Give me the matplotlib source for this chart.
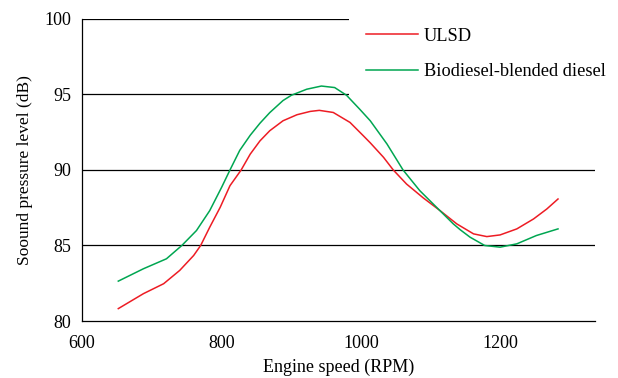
import matplotlib.pyplot as plt

plt.rcParams['font.family'] = ['Liberation Serif', 'DejaVu Serif']

# engine speed (RPM) and sound pressure level (dB) for each fuel
ulsd_rpm = [652, 688, 717, 740, 760, 770, 783, 798, 812, 828, 841, 855, 869, 888, 908,
            927, 940, 960, 984, 1003, 1013, 1032, 1046, 1065, 1089, 1113, 1137, 1161,
            1180, 1199, 1223, 1247, 1266, 1282]
ulsd_spl = [80.82, 81.81, 82.47, 83.35, 84.34, 85.0, 86.21, 87.53, 88.96, 90.0, 91.05,
            91.93, 92.6, 93.26, 93.66, 93.88, 93.95, 93.81, 93.15, 92.27, 91.8, 90.84,
            90.0, 89.07, 88.15, 87.31, 86.43, 85.77, 85.59, 85.7, 86.1, 86.76, 87.42, 88.08]

bio_rpm = [652, 688, 721, 743, 764, 783, 800, 812, 826, 841, 855, 869, 888, 900, 922,
           943, 962, 979, 998, 1013, 1037, 1060, 1084, 1108, 1132, 1142, 1156, 1177,
           1199, 1223, 1251, 1282]
bio_spl = [82.64, 83.46, 84.12, 85.0, 85.99, 87.31, 88.85, 90.0, 91.3, 92.3, 93.1,
           93.8, 94.6, 94.95, 95.35, 95.56, 95.46, 94.95, 94.02, 93.26, 91.72, 90.0,
           88.63, 87.53, 86.43, 86.04, 85.55, 85.0, 84.89, 85.11, 85.66, 86.1]

x_ticks = [600, 800, 1000, 1200]
y_ticks = [80, 85, 90, 95, 100]

fig = plt.figure(figsize=(6.18, 3.78), dpi=100)
ax = fig.add_axes([82 / 618, 1 - 321 / 378, 513 / 618, 302 / 378])

for y in y_ticks[1:]:
    ax.axhline(y, color='black', lw=0.9, zorder=1)

ax.plot(ulsd_rpm, ulsd_spl, color='#ED1C24', lw=1.1, label='ULSD', zorder=3,
        solid_joinstyle='round')
ax.plot(bio_rpm, bio_spl, color='#00A651', lw=1.1, label='Biodiesel-blended diesel',
        zorder=3, solid_joinstyle='round')

ax.set_xlim(600, 1335)
ax.set_ylim(80, 100)
ax.set_xticks(x_ticks)
ax.set_yticks(y_ticks)
ax.tick_params(axis='both', length=0, labelsize=13)
ax.tick_params(axis='x', pad=10)
ax.tick_params(axis='y', pad=8)

for side in ['top', 'right']:
    ax.spines[side].set_visible(False)
for side in ['left', 'bottom']:
    ax.spines[side].set_linewidth(0.9)

ax.set_xlabel('Engine speed (RPM)', fontsize=13, labelpad=5)
ax.set_ylabel('Soound pressure level (dB)', fontsize=12.5, labelpad=8)

leg = ax.legend(loc='upper left', bbox_to_anchor=(340 / 618, 1 - 2 / 378),
                bbox_transform=fig.transFigure, fontsize=13.2, frameon=True,
                fancybox=False, handlelength=2.85, handletextpad=0.32,
                labelspacing=1.0, borderpad=0.9)
leg.get_frame().set_facecolor('white')
leg.get_frame().set_edgecolor('none')
leg.get_frame().set_alpha(1)
leg.set_zorder(5)

fig.savefig('out.png', dpi=100)
